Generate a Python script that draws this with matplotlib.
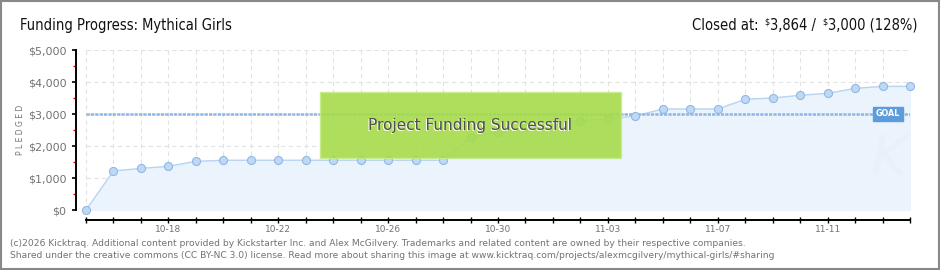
import matplotlib
matplotlib.use("Agg")
import matplotlib.pyplot as plt
import matplotlib.patches as mpatches
import matplotlib.transforms as mtransforms
import numpy as np

# --- data --------------------------------------------------------------------
dates = ["10-15", "10-16", "10-17", "10-18", "10-19", "10-20", "10-21", "10-22",
         "10-23", "10-24", "10-25", "10-26", "10-27", "10-28", "10-29", "10-30",
         "10-31", "11-01", "11-02", "11-03", "11-04", "11-05", "11-06", "11-07",
         "11-08", "11-09", "11-10", "11-11", "11-12", "11-13", "11-14"]
pledged = [0, 1220, 1300, 1365, 1520, 1555, 1555, 1555, 1555, 1555, 1555, 1555,
           1555, 1555, 2275, 2440, 2590, 2700, 2790, 2840, 2940, 3156, 3156, 3156,
           3460, 3500, 3585, 3645, 3800, 3864, 3864]
tick_labels = ["10-18", "10-22", "10-26", "10-30", "11-03", "11-07", "11-11"]
goal = 3000
y_major = [0, 1000, 2000, 3000, 4000, 5000]
y_minor = [500, 1500, 2500, 3500, 4500]

GREY = "#727272"
HEAD = dict(family="DejaVu Sans", stretch="condensed", color="#111111")

fig = plt.figure(figsize=(9.4, 2.7), dpi=100)
ax = fig.add_axes([76 / 940, 1 - 210 / 270, 834 / 940, 160 / 270])

x = np.arange(len(dates))
ax.set_xlim(-10 / 27.47, len(dates) - 1)
ax.set_ylim(0, 5000)

# grid (dashed, only over the data span)
ax.hlines(y_major, 0, len(dates) - 1, colors="#e2e2e2", lw=0.8,
          linestyles=(0, (4, 3)), zorder=0)
ax.vlines(x, 0, 5000, colors="#e2e2e2", lw=0.8, linestyles=(0, (4, 3)), zorder=0)

# area + line + markers
ax.fill_between(x, pledged, 0, color="#ebf3fc", zorder=1)
ax.plot(x, pledged, color="#b7d4f2", lw=1.0, zorder=2)
ax.plot(x, pledged, ls="none", marker="o", ms=5.8, mfc="#bdd9f6", mec="#92b8e3",
        mew=0.8, zorder=4, clip_on=False)

# goal line + badge
ax.hlines(goal, 0, len(dates) - 1, colors="#8fb6e3", lw=1.8,
          linestyles=(0, (1.3, 0.45)), zorder=3)
blend = mtransforms.blended_transform_factory(ax.transAxes, ax.transData)
ax.text(0.9736, goal, "GOAL", transform=blend, ha="center", va="center",
        fontsize=5.8, color="white", fontweight="bold", zorder=6,
        bbox=dict(boxstyle="square,pad=0.35", fc="#5d9cda", ec="#5d9cda"))

# "Project Funding Successful" banner (slightly see-through, like the original)
ax.add_patch(mpatches.Rectangle((0.2926, 0.327), 0.3609, 0.4086,
                                transform=ax.transAxes, fc="#a6db4b", ec="#c6eb8c",
                                lw=1.0, alpha=0.9, zorder=5))
ax.text(0.4725 - 0.0012, 0.527 - 0.008, "Project Funding Successful",
        transform=ax.transAxes, ha="center", va="center", fontsize=11,
        color="white", zorder=6)
ax.text(0.4725, 0.527, "Project Funding Successful", transform=ax.transAxes,
        ha="center", va="center", fontsize=11, color="#4f4f4f", zorder=7)

# faint watermark
ax.text(0.975, 0.15, "K", transform=ax.transAxes, ha="center", va="bottom",
        fontsize=40, style="italic", color="#e9f0f8", zorder=1)

# spines / ticks
for s in ("top", "right"):
    ax.spines[s].set_visible(False)
ax.spines["left"].set_linewidth(1.4)
ax.spines["bottom"].set_linewidth(1.4)
ax.spines["bottom"].set_position(("outward", 7.2))
ax.spines["bottom"].set_bounds(0, len(dates) - 1)

ax.set_yticks(y_major)
ax.set_yticklabels([f"${v:,}" for v in y_major])
ax.set_yticks(y_minor, minor=True)
ax.tick_params(axis="y", which="major", length=3, width=1.2, color="black",
               labelsize=8, labelcolor=GREY, pad=4)
ax.tick_params(axis="y", which="minor", length=2.5, width=1.0, color="#e00000")

ax.set_xticks(x, minor=True)
ax.set_xticks([dates.index(d) for d in tick_labels])
ax.set_xticklabels(tick_labels)
ax.tick_params(axis="x", which="both", direction="inout", length=4.5, width=1.0,
               color="black", labelsize=6.5, labelcolor=GREY, pad=1)

ax.set_ylabel("P L E D G E D", fontsize=5.5, color=GREY, labelpad=2)

# header
base_y = 30
fig.text(20 / 940, 1 - base_y / 270, "Funding Progress: Mythical Girls",
         fontsize=10.5, va="baseline", ha="left", **HEAD)

# right-hand summary, laid out piece by piece on one baseline
renderer = fig.canvas.get_renderer()
pieces = [("Closed at:", 10.5, 0, 0), ("$", 6.5, 6, 5), ("3,864 /", 10.5, 0.5, 0),
          ("$", 6.5, 6, 5), ("3,000 (128%)", 10.5, 0.5, 0)]
xpos = 692
for txt, size, gap, rise in pieces:
    xpos += gap
    t = fig.text(xpos / 940, 1 - (base_y - rise) / 270, txt, fontsize=size,
                 va="baseline", ha="left", **HEAD)
    xpos += t.get_window_extent(renderer).width

# footer
fig.text(10 / 940, 1 - 243 / 270,
         "(c)2026 Kicktraq. Additional content provided by Kickstarter Inc. and Alex "
         "McGilvery. Trademarks and related content are owned by their respective companies.",
         fontsize=6.6, color=GREY, va="center")
fig.text(10 / 940, 1 - 256 / 270,
         "Shared under the creative commons (CC BY-NC 3.0) license. Read more about sharing "
         "this image at www.kicktraq.com/projects/alexmcgilvery/mythical-girls/#sharing",
         fontsize=6.6, color=GREY, va="center")

# outer border
fig.patches.append(mpatches.Rectangle((0.0008, 0.003), 0.9984, 0.994,
                                      transform=fig.transFigure, fill=False,
                                      ec="#888888", lw=1.5))

fig.savefig("out.png", dpi=100)
